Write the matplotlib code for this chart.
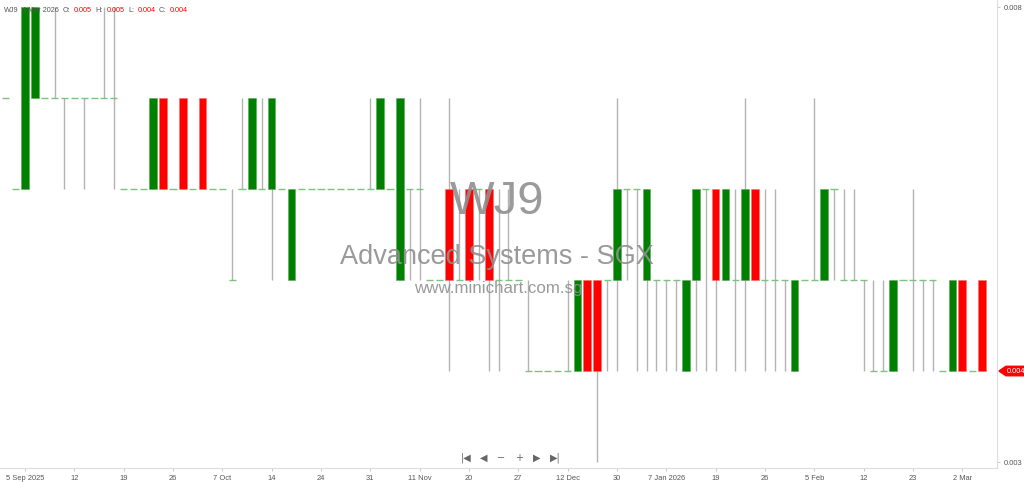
import matplotlib
matplotlib.use('agg')
import matplotlib.pyplot as plt
from matplotlib.patches import Polygon
from matplotlib.transforms import blended_transform_factory

# prices in units of 0.001 SGD, one entry per trading bar (3 Sep 2025 .. 4 Mar 2026)
opens = [7, 6, 6, 7, 7, 7, 7, 7, 7, 7,
         7, 7, 6, 6, 6, 6, 7, 6, 7, 6,
         7, 6, 6, 5, 6, 6, 6, 6, 6, 5,
         6, 6, 6, 6, 6, 6, 6, 6, 6, 6,
         5, 6, 6, 5, 5, 6, 5, 6, 6, 6,
         5, 5, 5, 4, 4, 4, 4, 4, 4, 5,
         5, 5, 5, 6, 6, 5, 5, 5, 5, 4,
         5, 6, 6, 5, 5, 5, 6, 5, 5, 5,
         4, 5, 5, 5, 6, 5, 5, 5, 4, 4,
         4, 5, 5, 5, 5, 4, 4, 5, 4, 5]
highs = [7, 6, 8, 8, 7, 8, 7, 7, 7, 7,
         8, 8, 6, 6, 6, 7, 7, 6, 7, 6,
         7, 6, 6, 6, 7, 7, 7, 7, 6, 6,
         6, 6, 6, 6, 6, 6, 6, 7, 7, 6,
         7, 6, 7, 5, 5, 7, 6, 6, 6, 6,
         6, 6, 5, 5, 4, 4, 4, 5, 5, 5,
         5, 5, 7, 6, 6, 6, 5, 5, 5, 5,
         6, 6, 6, 6, 6, 7, 6, 6, 6, 5,
         5, 5, 7, 6, 6, 6, 6, 5, 5, 5,
         5, 5, 6, 5, 5, 4, 5, 5, 4, 5]
lows = [7, 6, 6, 7, 7, 7, 6, 7, 6, 7,
        7, 6, 6, 6, 6, 6, 6, 6, 6, 6,
        6, 6, 6, 5, 6, 6, 6, 5, 6, 5,
        6, 6, 6, 6, 6, 6, 6, 6, 6, 6,
        5, 5, 5, 5, 5, 4, 5, 5, 5, 4,
        4, 5, 5, 4, 4, 4, 4, 4, 4, 4,
        3, 4, 4, 5, 4, 4, 4, 4, 4, 4,
        4, 4, 4, 5, 4, 4, 5, 4, 4, 4,
        4, 5, 5, 5, 5, 5, 5, 4, 4, 4,
        4, 5, 4, 4, 4, 4, 4, 4, 4, 4]
closes = [7, 6, 8, 8, 7, 7, 7, 7, 7, 7,
          7, 7, 6, 6, 6, 7, 6, 6, 6, 6,
          6, 6, 6, 5, 6, 7, 6, 7, 6, 6,
          6, 6, 6, 6, 6, 6, 6, 6, 7, 6,
          7, 6, 6, 5, 5, 5, 5, 5, 6, 5,
          5, 5, 5, 4, 4, 4, 4, 4, 5, 4,
          4, 5, 6, 6, 6, 6, 5, 5, 5, 5,
          6, 6, 5, 6, 5, 6, 5, 5, 5, 5,
          5, 5, 5, 6, 6, 5, 5, 5, 4, 4,
          5, 5, 5, 5, 5, 4, 5, 4, 4, 4]
scale = 0.001

tick_labels = ['5 Sep 2025', '12', '19', '26', '7 Oct', '14', '24', '31', '11 Nov', '20',
               '27', '12 Dec', '30', '7 Jan 2026', '19', '26', '5 Feb', '12', '23', '2 Mar']
first_tick = 2
tick_step = 5

ticker = 'WJ9'
company = 'Advanced Systems - SGX'
last_date = '4 Mar 2026'

o = [v * scale for v in opens]
h = [v * scale for v in highs]
l = [v * scale for v in lows]
c = [v * scale for v in closes]
x = list(range(len(o)))

plt.rcParams['font.family'] = ['Liberation Sans', 'DejaVu Sans']

fig = plt.figure(figsize=(10.24, 4.84), dpi=100)
ax = fig.add_axes([0, 0.033, 0.9736, 0.967])

wick_col = '#b3b3b3'
up_col = '#008000'
down_col = '#ff0000'
flat_col = '#7fc27f'

# wicks
wx = [i for i in x if h[i] > l[i]]
ax.vlines(wx, [l[i] for i in wx], [h[i] for i in wx], color=wick_col, lw=1, zorder=1)

# bodies
up = [i for i in x if c[i] > o[i]]
dn = [i for i in x if c[i] < o[i]]
ax.bar(up, [c[i] - o[i] for i in up], bottom=[o[i] for i in up], width=0.78,
       color=up_col, edgecolor='#5aa85a', lw=0.4, zorder=2)
ax.bar(dn, [o[i] - c[i] for i in dn], bottom=[c[i] for i in dn], width=0.78,
       color=down_col, edgecolor='#ff6a6a', lw=0.4, zorder=2)

# open == close -> short flat mark
fl = [i for i in x if c[i] == o[i]]
ax.hlines([o[i] for i in fl], [i - 0.36 for i in fl], [i + 0.36 for i in fl],
          color=flat_col, lw=1, zorder=3)

ax.set_xlim(-0.534, 100.52)
ax.set_ylim(0.002934, 0.008077)

for s in ['top', 'left']:
    ax.spines[s].set_visible(False)
ax.spines['bottom'].set_color('#dddddd')
ax.spines['right'].set_color('#dddddd')

ax.set_xticks(range(first_tick, first_tick + tick_step * len(tick_labels), tick_step))
ax.set_xticklabels(tick_labels)
ax.tick_params(axis='x', length=2, color='#cccccc', labelsize=5.4, labelcolor='#555555', pad=3)
ax.yaxis.tick_right()
ax.set_yticks([0.003, 0.008])
ax.set_yticklabels(['0.003', '0.008'])
ax.tick_params(axis='y', length=2, color='#cccccc', labelsize=5.4, labelcolor='#555555', pad=3)

# watermark
fig.text(0.485, 0.582, ticker, fontsize=34, color='#8f8f8f', alpha=0.9,
         ha='center', va='center', zorder=5)
fig.text(0.4855, 0.469, company, fontsize=19.5, color='#8f8f8f', alpha=0.9,
         ha='center', va='center', zorder=5)
fig.text(0.4865, 0.404, 'www.minichart.com.sg', fontsize=12.2, color='#8f8f8f', alpha=0.9,
         ha='center', va='center', zorder=5)

# header line
hdr_y = 1 - 10 / 484
items = [(4, ticker, '#555555'), (22, last_date, '#555555'),
         (63, 'O:', '#555555'), (74, '%.3f' % o[-1], '#ff0000'),
         (95, 'H:', '#555555'), (107, '%.3f' % h[-1], '#ff0000'),
         (128, 'L:', '#555555'), (138, '%.3f' % l[-1], '#ff0000'),
         (159, 'C:', '#555555'), (170, '%.3f' % c[-1], '#ff0000')]
for px, txt, col in items:
    fig.text(px / 1024, hdr_y, txt, fontsize=5.2, color=col, va='center', ha='left')

# last price tag
tr = blended_transform_factory(ax.transAxes, ax.transData)
last = c[-1]
d = 0.000052
tag = Polygon([(1.002, last), (1.009, last + d), (1.028, last + d),
               (1.028, last - d), (1.009, last - d)], closed=True,
              transform=tr, clip_on=False, color='#ff0000', zorder=6)
ax.add_patch(tag)
ax.text(1.0095, last, '%.3f' % last, transform=tr, fontsize=5.3, color='white',
        va='center', ha='left', clip_on=False, zorder=7)

# navigation buttons
nav = [(466, '|\u25c0'), (484, '\u25c0'), (501, '\u2212'), (519, '+'), (537, '\u25b6'), (555, '\u25b6|')]
for px, txt in nav:
    fig.text(px / 1024, 1 - 458 / 484, txt, fontsize=7, color='#666666',
             ha='center', va='center', family='DejaVu Sans')

fig.savefig('out.png', dpi=100)
